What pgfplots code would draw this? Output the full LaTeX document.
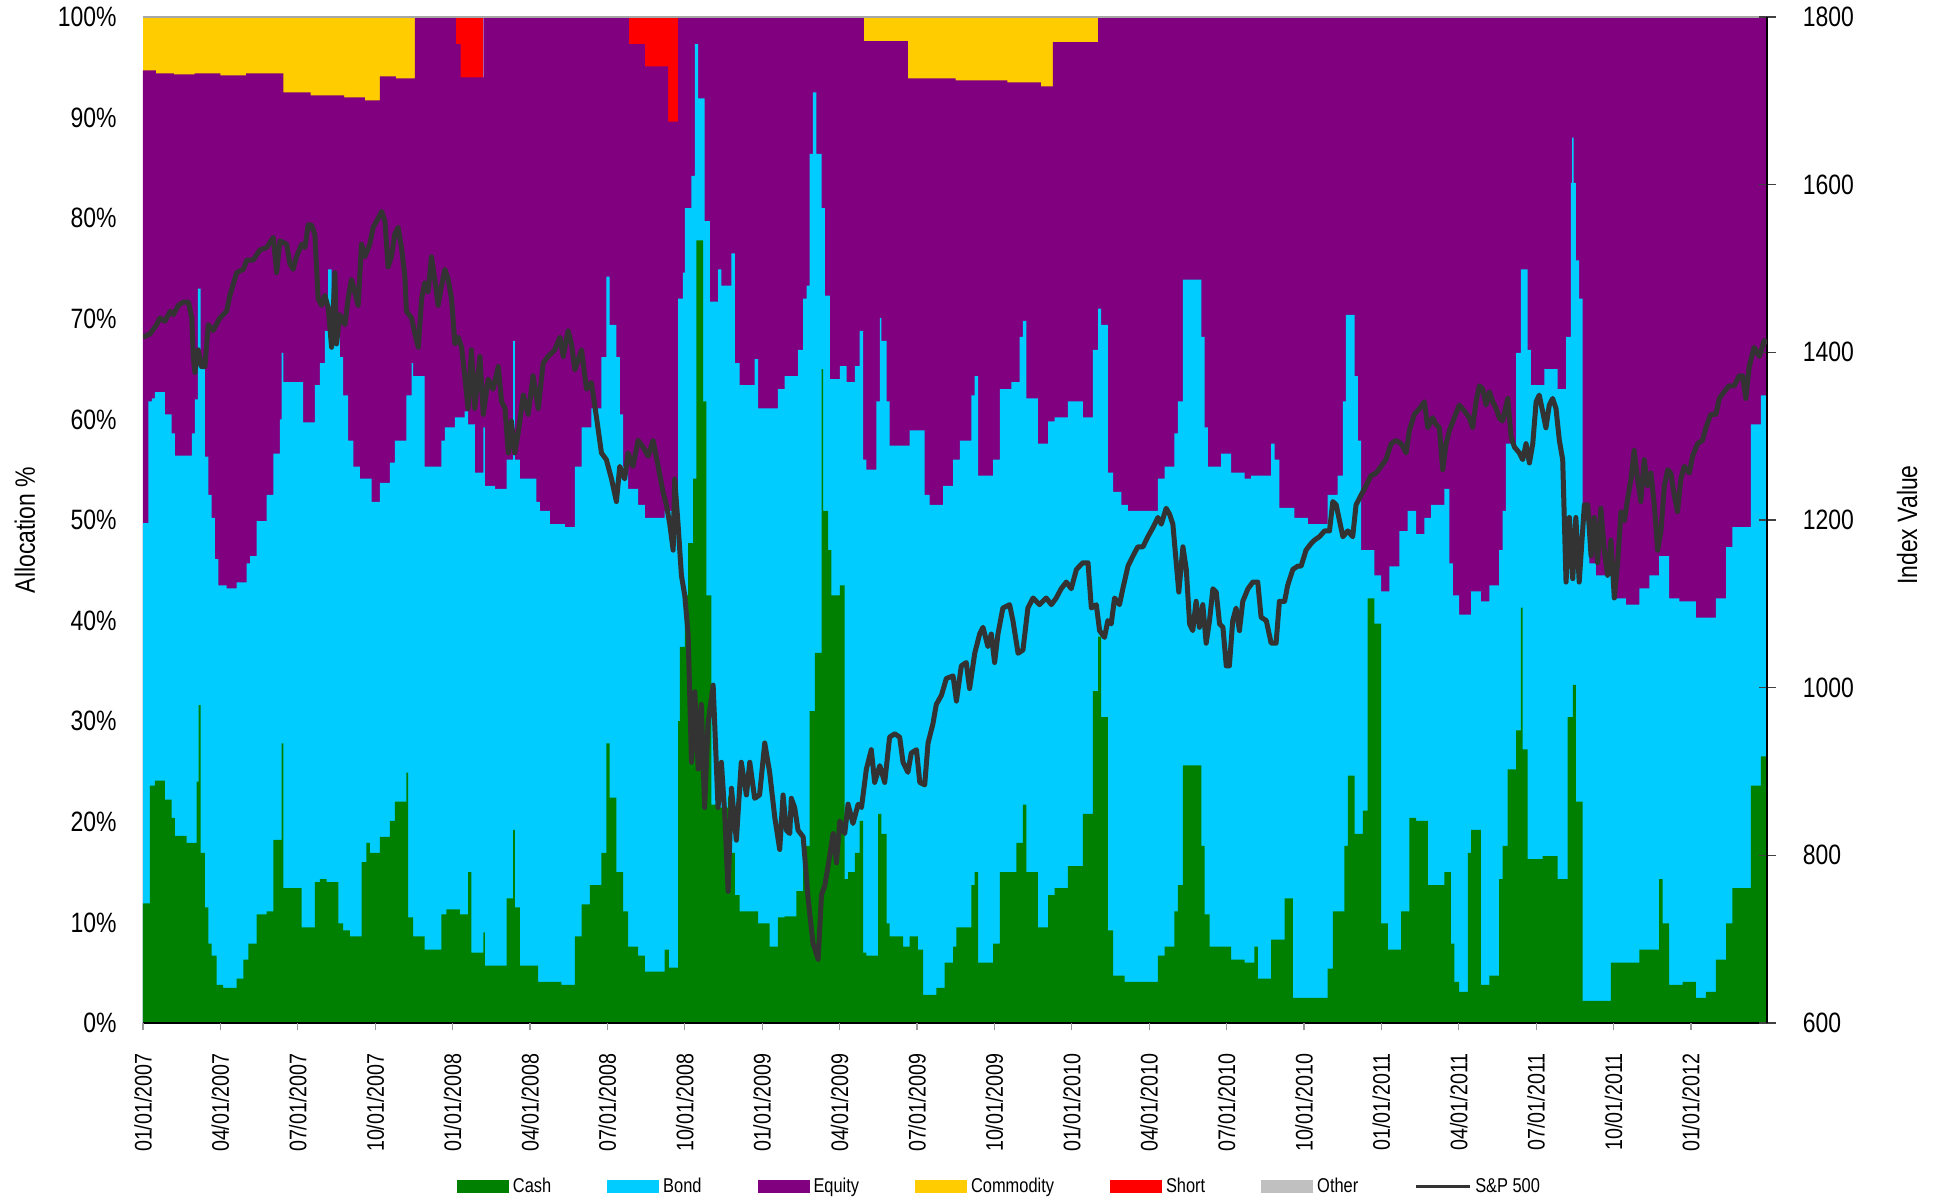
\documentclass[border=0pt]{standalone}
\usepackage{fontspec}
\setmainfont{Liberation Sans}
\newfontfamily\narrow[FakeStretch=0.82]{Liberation Sans}
\usepackage{pgfplots}
\pgfplotsset{compat=1.18}
\definecolor{cgreen}{HTML}{008000}
\definecolor{ccyan}{HTML}{00CCFF}
\definecolor{cpurple}{HTML}{800080}
\definecolor{cyellow}{HTML}{FFCC00}
\definecolor{cred}{HTML}{FF0000}
\definecolor{cother}{HTML}{C0C0C0}
\definecolor{spgray}{HTML}{333333}
\newcommand\fA{\narrow\fontsize{14bp}{16bp}\selectfont}
\newcommand\fB{\narrow\fontsize{12bp}{14bp}\selectfont}
\newcommand\fC{\narrow\fontsize{10bp}{12bp}\selectfont}
\pgfplotsset{
  boxlegend/.style={legend image code/.code={\fill[##1] (0bp,-3.25bp) rectangle (26bp,3.25bp);}},
  linelegend/.style={legend image code/.code={\draw[##1] (0bp,0bp) -- (27bp,0bp);}},
}
\begin{document}
\begin{tikzpicture}
\path[use as bounding box] (-71.5bp,-88bp) rectangle (897.5bp,511.5bp);
\begin{axis}[
  at={(0,0)}, anchor=south west,
  scale only axis, width=812bp, height=503bp,
  xmin=0, xmax=62.95, ymin=0, ymax=100,
  axis line style={draw=none},
  axis on top=true,
  xtick pos=bottom, ytick pos=left,
  tick align=outside, major tick length=3.5bp,
  xtick style={gray!80, line width=0.6bp},
  ytick style={draw=none},
  xtick={0,3,...,60},
  xticklabels={01/01/2007,04/01/2007,07/01/2007,10/01/2007,01/01/2008,04/01/2008,07/01/2008,10/01/2008,01/01/2009,04/01/2009,07/01/2009,10/01/2009,01/01/2010,04/01/2010,07/01/2010,10/01/2010,01/01/2011,04/01/2011,07/01/2011,10/01/2011,01/01/2012},
  xticklabel style={rotate=90, anchor=east, inner sep=0pt, font=\fB},
  xticklabel shift=11.5bp,
  ytick={0,10,...,100},
  yticklabels={0\%,10\%,20\%,30\%,40\%,50\%,60\%,70\%,80\%,90\%,100\%},
  yticklabel style={anchor=east, inner sep=0pt, font=\fA},
  yticklabel shift=9.5bp,
  every axis y label/.style={at={(axis description cs:-0.0727,0.49)}, rotate=90, anchor=center, font=\fA},
  ylabel={Allocation \%},
]
% Commodity
\addplot[draw=none, fill=cyellow] coordinates {(0,100) (10.54,100)} \closedcycle;
\addplot[draw=none, fill=cyellow] coordinates {(27.94,100) (37.02,100)} \closedcycle;
% Short
\addplot[draw=none, fill=cred] coordinates {(12.13,100) (13.19,100)} \closedcycle;
\addplot[draw=none, fill=cred] coordinates {(18.83,100) (20.74,100)} \closedcycle;
% Cash+Bond+Equity
\addplot[draw=none, fill=cpurple, const plot] coordinates {
(0,94.7)(0.5,94.4)(1.2,94.3)(2.0,94.4)(3.0,94.2)(4.0,94.4)(5.44,92.5)(6.5,92.2)(7.8,92.0)(8.6,91.7)
(9.18,94.1)(9.8,93.9)(10.54,100)(12.13,97.3)(12.31,94.0)(13.19,100)(18.83,97.3)(19.45,95.1)(20.35,89.6)
(20.74,100)(27.94,97.6)(29.65,93.9)(31.5,93.7)(33.5,93.5)(34.8,93.1)(35.27,97.5)(37.02,100)(62.95,100)
} \closedcycle;
% Cash+Bond
\addplot[draw=none, fill=ccyan, const plot] coordinates {
(0,49.7)(0.21,61.8)(0.34,62.1)(0.46,62.7)(0.85,60.5)(1.11,58.6)(1.24,56.4)(1.89,58.6)(2.01,62)(2.13,73)
(2.23,65.3)(2.40,56.3)(2.53,52.5)(2.66,50.2)(2.79,46.1)(2.92,43.5)(3.24,43.2)(3.63,43.8)(4.02,45.7)(4.15,46.4)
(4.40,49.9)(4.79,52.5)(5.05,56.6)(5.31,60)(5.37,66.6)(5.44,63.7)(6.21,59.7)(6.66,63.4)(6.86,65.6)(7.05,68.8)
(7.18,74.9)(7.31,69.4)(7.63,66.2)(7.76,62.4)(7.95,57.9)(8.15,55.3)(8.41,54.1)(8.86,51.8)(9.18,53.7)(9.57,55.7)
(9.76,57.9)(10.21,62.4)(10.41,65.6)(10.47,64.3)(10.92,55.3)(11.57,57.9)(11.70,59.2)(12.09,60.2)(12.47,60.8)
(12.60,59.5)(12.86,54.7)(13.19,59.2)(13.25,53.4)(13.64,53.1)(14.09,56.0)(14.35,67.8)(14.41,56.0)(14.61,54.1)
(15.25,51.8)(15.38,50.9)(15.77,49.6)(16.35,49.3)(16.74,55.3)(17.00,59.2)(17.38,61.1)(17.77,66.2)(17.96,74.2)
(18.09,69.4)(18.35,66.2)(18.48,60.5)(18.61,55.3)(18.80,53.1)(19.19,51.5)(19.45,50.2)(20.22,50.9)(20.74,72.0)
(20.93,74.6)(21.00,81.0)(21.26,84.2)(21.39,97.3)(21.52,91.9)(21.77,79.7)(21.97,71.7)(22.29,74.9)(22.42,73.3)
(22.81,76.5)(22.94,65.6)(23.13,63.4)(23.71,66)(23.84,61.1)(24.61,63.0)(24.87,64.3)
(25.39,66.9)(25.59,72.0)(25.72,73.3)(25.84,86.4)(25.97,92.5)(26.10,86.4)(26.30,81.0)(26.43,72.3)(26.62,64.0)
(27.01,65.3)(27.27,63.7)(27.59,65.3)(27.78,68.8)(27.91,56.0)(28.04,55.0)(28.43,61.8)(28.56,70.1)(28.62,67.8)
(28.82,61.8)(28.94,57.4)(29.72,58.9)(30.30,52.5)(30.49,51.5)(31.01,53.4)(31.40,56.0)(31.66,57.9)(32.11,62.4)
(32.24,64.3)(32.37,54.4)(32.95,56.0)(33.21,63.0)(33.66,63.7)(33.98,68.2)(34.11,69.8)(34.24,62.1)(34.69,57.6)
(35.08,59.8)(35.34,60.2)(35.85,61.8)(36.43,60.2)(36.82,66.9)(37.02,71.0)(37.14,69.4)(37.40,54.7)(37.60,52.8)
(37.92,51.5)(38.18,50.9)(39.34,54.1)(39.60,55.3)(39.98,58.6)(40.11,61.8)(40.31,73.9)(41.02,68.2)(41.15,59.2)
(41.28,55.3)(41.79,56.6)(42.18,54.7)(42.70,54.1)(42.95,54.4)(43.73,57.6)(43.86,56.0)(44.05,51.2)(44.63,50.2)
(45.15,49.6)(45.92,52.5)(46.31,54.4)(46.51,61.8)(46.63,70.4)(46.96,64.3)(47.09,57.9)(47.22,47.0)(47.73,44.5)
(47.99,42.9)(48.31,45.4)(48.70,48.9)(49.02,50.9)(49.35,48.6)(49.67,50.2)(49.93,51.5)
(50.44,53.1)(50.64,45.7)(50.77,42.5)(51.02,40.6)(51.48,42.9)(51.86,41.9)(52.19,43.5)(52.57,47.0)(52.70,50.9)
(52.83,57.6)(53.22,66.6)(53.41,74.9)(53.67,66.9)(53.80,63.4)(54.32,65.0)(54.83,63.0)(55.16,68.2)(55.35,83.5)
(55.40,88)(55.45,83.5)(55.54,75.8)(55.67,72.0)(55.80,50.9)(56.06,45.7)(56.32,44.5)(56.96,42.2)(57.48,41.6)
(58.00,43.2)(58.39,44.5)(58.77,46.4)(59.16,42.2)(59.55,41.9)(60.19,40.3)(60.97,42.2)(61.36,47.3)(61.61,49.3)
(62.32,59.5)(62.71,62.4)(62.95,62.4)
} \closedcycle;
% Cash
\addplot[draw=none, fill=cgreen, const plot] coordinates {
(0,11.9)(0.27,23.6)(0.46,24.1)(0.85,22.2)(1.11,20.4)(1.24,18.6)(1.69,17.9)(2.08,24)(2.16,31.6)(2.23,16.9)
(2.40,11.5)(2.53,7.9)(2.66,6.7)(2.85,3.8)(3.11,3.5)(3.63,4.4)(3.89,6.3)(4.08,7.9)(4.40,10.8)(4.79,11.1)
(5.05,18.2)(5.37,27.8)(5.44,13.4)(6.15,9.5)(6.66,14.0)(6.86,14.3)(7.12,14.0)(7.57,9.9)(7.76,9.2)(8.02,8.6)
(8.47,16.0)(8.66,17.9)(8.79,16.9)(9.18,18.5)(9.57,20.1)(9.76,22.0)(10.21,24.9)(10.28,10.5)(10.47,8.6)
(10.92,7.3)(11.57,10.8)(11.76,11.3)(12.28,10.8)
(12.60,15.0)(12.73,7.0)(13.19,9.0)(13.25,5.7)(14.09,12.4)(14.35,19.2)(14.41,11.5)(14.61,5.7)(15.32,4.1)
(16.22,3.8)(16.74,8.6)(17.00,11.8)(17.32,13.7)(17.77,16.9)(17.96,27.8)(18.09,22.4)(18.35,15.0)(18.61,11.1)
(18.80,7.6)(19.19,6.7)(19.45,5.1)(20.22,7.3)(20.38,5.5)(20.74,30)(20.81,37.4)(21.00,42.5)(21.13,47.7)
(21.32,54.1)(21.45,77.8)(21.71,61.8)(21.84,42.5)(22.03,21.7)(22.29,21.4)(22.68,22.5)(22.81,16.9)(22.94,12.7)
(23.13,11.1)(23.84,9.9)(24.29,7.6)(24.61,10.5)(24.87,10.6)
(25.33,13.1)(25.59,17.6)(25.84,31.0)(26.04,36.8)(26.30,65.0)(26.36,50.9)(26.56,47.0)(26.68,42.5)(27.01,43.5)
(27.20,14.3)(27.33,15.0)(27.59,16.9)(27.78,20.1)(27.91,7.0)(28.04,6.7)(28.49,20.8)(28.62,18.8)(28.82,9.9)
(28.94,8.6)(29.46,7.6)(29.72,8.6)(30.04,7.3)(30.24,2.8)(30.75,3.5)(31.07,6.0)(31.40,7.6)(31.53,9.5)
(32.11,13.7)(32.24,15.0)(32.37,6.0)(32.95,7.9)(33.21,15.0)(33.85,17.9)(34.11,21.7)(34.24,15.0)(34.69,9.5)
(35.08,12.7)(35.34,13.4)(35.85,15.6)(36.43,20.8)(36.82,33.0)(37.02,38.4)(37.14,30.4)(37.40,9.2)(37.60,4.7)
(38.05,4.1)(39.34,6.7)(39.60,7.6)(39.98,11.1)(40.11,13.7)(40.31,25.6)(41.02,17.6)(41.15,10.8)(41.34,7.6)
(42.18,6.3)(42.70,6.0)(43.08,7.6)(43.21,4.4)(43.73,8.3)(44.25,12.4)(44.57,2.5)(45.92,5.4)(46.12,11.1)
(46.57,17.6)(46.70,24.6)(46.96,18.8)(47.28,21.1)(47.47,42.2)(47.73,39.7)(47.99,9.9)(48.25,7.3)(48.77,11.1)
(49.09,20.4)(49.35,20.1)(49.80,13.7)
(50.44,15.0)(50.70,7.9)(50.83,4.1)(51.02,3.1)(51.35,16.9)(51.48,19.2)(51.86,3.8)(52.19,4.7)(52.57,14.3)
(52.70,17.6)(52.90,25.2)(53.22,29.1)(53.41,41.3)(53.48,27.2)(53.67,16.3)(54.25,16.6)(54.83,14.3)(55.22,30.4)
(55.42,33.6)(55.54,22.0)(55.80,2.2)(56.90,6.0)(58.00,7.3)(58.77,14.3)(58.90,9.9)(59.16,3.8)(59.68,4.1)
(60.19,2.5)(60.58,3.1)(60.97,6.3)(61.36,9.9)(61.61,13.4)(62.32,23.6)(62.71,26.5)(62.95,26.5)
} \closedcycle;
\draw[gray!70, line width=0.8bp] (rel axis cs:0,1) -- (rel axis cs:1,1);
\draw[black, line width=0.8bp] (rel axis cs:0,0) -- (rel axis cs:1,0);
\end{axis}
\begin{axis}[
  at={(0,0)}, anchor=south west,
  scale only axis, width=812bp, height=503bp,
  xmin=0, xmax=62.95, ymin=600, ymax=1800,
  axis x line=none, axis y line*=right,
  y axis line style={-, black, line width=0.8bp},
  ytick pos=right,
  tick align=center, major tick length=8.5bp,
  ytick style={black!75, line width=0.6bp},
  ytick={600,800,1000,1200,1400,1600,1800},
  yticklabels={600,800,1000,1200,1400,1600,1800},
  yticklabel style={anchor=west, inner sep=0pt, font=\fA},
  yticklabel shift=13.5bp,
  every axis y label/.style={at={(axis description cs:1.0862,0.495)}, rotate=90, anchor=center, font=\fA},
  ylabel={Index Value},
  legend columns=7,
  legend style={at={(axis description cs:0.528,-0.163)}, anchor=center, draw=none, fill=none,
    font=\fC, inner sep=0pt, nodes={inner xsep=2bp, inner ysep=0pt},
    /tikz/every even column/.append style={column sep=26bp}},
]
\addlegendimage{boxlegend, fill=cgreen, draw=none}
\addlegendentry{Cash}
\addlegendimage{boxlegend, fill=ccyan, draw=none}
\addlegendentry{Bond}
\addlegendimage{boxlegend, fill=cpurple, draw=none}
\addlegendentry{Equity}
\addlegendimage{boxlegend, fill=cyellow, draw=none}
\addlegendentry{Commodity}
\addlegendimage{boxlegend, fill=cred, draw=none}
\addlegendentry{Short}
\addlegendimage{boxlegend, fill=cother, draw=none}
\addlegendentry{Other}
\addlegendimage{linelegend, spgray, line width=1.5bp}
\addlegendentry{S\&P 500}
\addplot[forget plot, spgray, line width=2.5bp, line join=round] coordinates {
(0,1418)(0.27,1422)(0.53,1433)(0.66,1441)(0.85,1437)(1.05,1449)(1.18,1445)(1.37,1456)(1.56,1460)(1.76,1460)
(1.89,1441)(1.95,1395)(2.01,1376)(2.14,1403)(2.27,1383)(2.40,1383)(2.53,1433)(2.72,1426)(2.98,1441)(3.24,1449)
(3.37,1468)(3.63,1495)(3.89,1499)(4.02,1510)(4.27,1510)(4.53,1522)(4.79,1525)(5.05,1537)(5.18,1495)(5.31,1533)
(5.57,1529)(5.69,1506)(5.82,1499)(5.95,1514)(6.15,1529)(6.28,1525)(6.40,1552)(6.53,1552)(6.66,1541)(6.79,1464)
(6.92,1456)(7.05,1468)(7.18,1453)(7.31,1406)(7.44,1495)(7.50,1410)(7.63,1445)(7.83,1433)(7.95,1464)(8.08,1487)
(8.21,1472)(8.34,1456)(8.47,1529)(8.60,1514)(8.79,1529)(8.92,1549)(9.05,1556)(9.25,1568)(9.38,1556)(9.50,1502)
(9.63,1514)(9.76,1541)(9.89,1549)(10.02,1525)(10.15,1491)(10.21,1449)(10.41,1441)(10.54,1422)(10.67,1406)
(10.80,1464)(10.92,1483)(11.05,1472)(11.18,1514)(11.31,1487)(11.44,1456)(11.57,1479)(11.70,1499)(11.83,1487)
(11.96,1464)(12.09,1410)(12.22,1418)(12.35,1406)(12.47,1372)(12.60,1333)
(12.73,1403)(12.86,1333)(13.06,1395)(13.19,1326)(13.38,1368)(13.57,1356)(13.77,1383)(13.90,1341)(14.03,1333)
(14.16,1280)(14.28,1318)(14.41,1280)(14.54,1303)(14.74,1349)(14.93,1326)(15.12,1372)(15.32,1333)(15.51,1387)
(15.70,1395)(15.96,1403)(16.16,1418)(16.29,1395)(16.48,1426)(16.61,1410)(16.74,1379)(17.00,1403)(17.19,1356)
(17.38,1364)(17.58,1322)(17.77,1280)(17.96,1272)(18.16,1249)(18.35,1222)(18.48,1264)(18.67,1249)(18.80,1280)
(18.99,1264)(19.19,1295)(19.38,1287)(19.58,1276)(19.77,1295)(19.97,1264)(20.16,1233)(20.29,1218)(20.42,1195)
(20.55,1164)(20.61,1249)(20.74,1195)(20.87,1134)(21.00,1110)(21.13,1064)(21.26,911)(21.39,995)(21.52,903)
(21.64,980)(21.77,857)(21.90,957)(22.10,1003)(22.29,857)(22.42,911)(22.55,849)(22.68,757)(22.81,880)
(23.00,818)(23.19,911)(23.39,872)(23.52,911)(23.71,868)(23.90,872)(24.10,934)(24.29,899)(24.49,845)
(24.68,807)(24.81,872)(24.94,830)(25.07,826)(25.13,868)(25.26,857)
(25.39,830)(25.59,822)(25.78,749)(25.97,695)(26.17,676)(26.30,753)(26.43,764)(26.56,788)(26.75,826)
(26.88,791)(27.01,841)(27.20,826)(27.33,861)(27.52,838)(27.72,861)(27.85,857)(28.04,903)(28.23,926)
(28.36,887)(28.56,907)(28.75,887)(28.94,941)(29.14,945)(29.33,941)(29.46,911)(29.65,899)(29.78,922)
(29.98,926)(30.11,887)(30.30,884)(30.43,934)(30.62,957)(30.75,980)(30.95,991)(31.14,1011)(31.40,1014)
(31.53,984)(31.72,1026)(31.91,1030)(32.04,999)(32.24,1041)(32.43,1064)(32.56,1072)(32.75,1049)(32.88,1064)
(33.01,1030)(33.14,1064)(33.33,1095)(33.59,1099)(33.72,1080)(33.92,1041)(34.11,1045)(34.30,1095)(34.50,1107)
(34.75,1099)(35.01,1107)(35.21,1099)(35.40,1107)(35.59,1118)(35.79,1126)(35.98,1118)(36.18,1141)(36.43,1149)
(36.63,1149)(36.76,1095)(36.95,1099)(37.08,1068)(37.27,1060)(37.40,1080)(37.53,1076)(37.66,1107)
(37.85,1099)(37.98,1118)(38.18,1145)(38.37,1157)(38.56,1168)(38.76,1168)(38.95,1180)(39.15,1191)(39.34,1203)
(39.47,1195)(39.66,1214)(39.79,1207)(39.92,1195)(40.05,1149)(40.15,1114)(40.31,1168)(40.44,1141)(40.57,1076)
(40.69,1068)(40.82,1103)(40.95,1072)(41.08,1099)(41.21,1053)(41.34,1080)(41.47,1118)(41.60,1114)(41.73,1076)
(41.86,1072)(41.99,1026)(42.11,1026)(42.24,1080)(42.37,1095)(42.50,1068)(42.63,1103)(42.83,1118)(43.02,1126)
(43.21,1126)(43.34,1084)(43.54,1080)(43.73,1053)(43.92,1053)(44.05,1103)(44.25,1103)(44.37,1122)(44.57,1141)
(44.76,1145)(44.89,1145)(45.08,1164)(45.28,1172)(45.41,1176)(45.60,1180)(45.80,1187)(45.99,1187)(46.12,1222)
(46.25,1218)(46.38,1199)(46.51,1180)(46.70,1187)(46.89,1180)(47.02,1218)(47.22,1230)(47.41,1241)(47.60,1253)
(47.80,1256)(47.99,1264)(48.18,1272)(48.38,1291)(48.57,1295)(48.77,1291)(48.96,1280)(49.09,1307)(49.28,1326)
(49.48,1333)(49.67,1341)(49.80,1310)(49.99,1322)(50.12,1314)(50.25,1310)(50.38,1260)
(50.51,1291)(50.64,1307)(50.83,1322)(51.02,1337)(51.22,1330)(51.41,1322)(51.54,1310)(51.67,1341)(51.80,1360)
(51.93,1356)(52.06,1337)(52.19,1353)(52.32,1341)(52.45,1333)(52.57,1322)(52.70,1318)(52.90,1345)(53.03,1299)
(53.16,1287)(53.35,1280)(53.48,1272)(53.61,1291)(53.74,1268)(53.87,1291)(54.00,1341)(54.12,1349)(54.25,1330)
(54.38,1310)(54.51,1337)(54.64,1345)(54.77,1333)(54.90,1295)(55.03,1272)(55.16,1126)(55.29,1203)(55.42,1130)
(55.54,1203)(55.67,1126)(55.87,1218)(56.00,1218)(56.13,1157)(56.25,1203)(56.38,1149)(56.51,1214)(56.64,1164)
(56.77,1134)(56.90,1176)(57.03,1107)(57.16,1149)(57.29,1210)(57.42,1199)(57.55,1226)(57.68,1249)(57.80,1283)
(57.93,1249)(58.06,1222)(58.19,1272)(58.32,1241)(58.45,1256)(58.58,1218)(58.71,1164)(58.84,1187)(58.97,1241)
(59.10,1260)(59.22,1256)(59.35,1230)(59.48,1210)(59.61,1249)(59.74,1264)(59.94,1256)(60.06,1276)(60.26,1291)
(60.45,1295)(60.58,1310)(60.77,1326)(60.97,1326)(61.10,1345)(61.29,1353)(61.48,1360)(61.68,1360)(61.87,1372)
(62.00,1372)(62.13,1345)(62.26,1383)(62.45,1406)(62.65,1395)(62.84,1414)(62.95,1410)
};
\end{axis}
\end{tikzpicture}
\end{document}
